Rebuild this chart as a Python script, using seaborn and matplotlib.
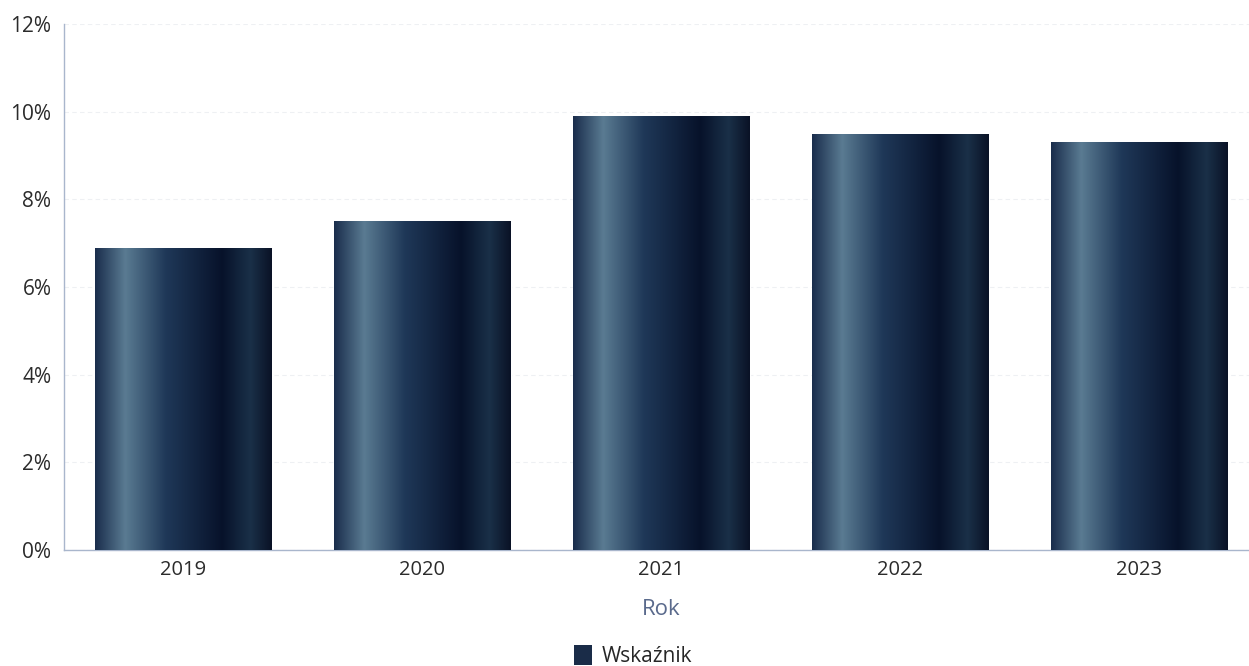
import numpy as np
import pandas as pd
import matplotlib
matplotlib.use("Agg")
import matplotlib.pyplot as plt
from matplotlib.colors import LinearSegmentedColormap
from matplotlib.ticker import FuncFormatter
from matplotlib.patches import Patch
import seaborn as sns

years = ["2019", "2020", "2021", "2022", "2023"]
values = [6.9, 7.5, 9.9, 9.5, 9.3]
series_name = "Wskaźnik"

sns.set_style("white")
plt.rcParams['font.family'] = ['Open Sans', 'DejaVu Sans']

df = pd.DataFrame({"Rok": years, "val": values})

fig = plt.figure(figsize=(12.49, 6.66), dpi=100)
ax = fig.add_axes([64 / 1249, 116 / 666, 1195 / 1249, 526 / 666])

sns.barplot(data=df, x="Rok", y="val", color="#1a2c48", width=0.74, ax=ax,
            saturation=1, zorder=2)

# horizontal gradient across each bar
grad = LinearSegmentedColormap.from_list("bar", [
    (0.00, "#1a2d4c"),
    (0.17, "#5a7b92"),
    (0.40, "#1f3858"),
    (0.72, "#07122a"),
    (0.88, "#1a3048"),
    (1.00, "#0a1226"),
])
g = np.linspace(0, 1, 256).reshape(1, -1)
for p in ax.patches:
    x0, y0 = p.get_x(), p.get_y()
    w, h = p.get_width(), p.get_height()
    im = ax.imshow(g, cmap=grad, aspect="auto", extent=[x0, x0 + w, y0, y0 + h],
                   zorder=3, interpolation="bicubic")
    im.set_clip_path(p)

ax.set_xlim(-0.5, 4.5)
ax.set_ylim(0, 12)
ax.set_yticks([0, 2, 4, 6, 8, 10, 12])
ax.yaxis.set_major_formatter(FuncFormatter(lambda v, _: f"{v:.0f}%"))
ax.grid(axis="y", color="#eef0f3", linestyle=(0, (4, 3)), linewidth=0.8, zorder=0)
ax.set_axisbelow(True)

for s in ["top", "right"]:
    ax.spines[s].set_visible(False)
for s in ["left", "bottom"]:
    ax.spines[s].set_color("#a9b6cc")
    ax.spines[s].set_linestyle((0, (1, 1)))
    ax.spines[s].set_linewidth(1.0)

ax.tick_params(axis="y", length=0, labelsize=15, labelcolor="#2b2b2b", pad=9)
ax.tick_params(axis="x", length=0, labelsize=14.5, labelcolor="#2b2b2b", pad=7)
ax.set_ylabel("")
ax.set_xlabel("Rok", fontsize=16, color="#5a6a8c", labelpad=14)

handle = Patch(facecolor="#1a2c48", edgecolor="none")
fig.legend([handle], [series_name], loc="lower center", bbox_to_anchor=(0.507, -0.03),
           frameon=False, fontsize=15, handlelength=0.85, handleheight=1.1,
           handletextpad=0.45)

fig.savefig("out.png", dpi=100)
